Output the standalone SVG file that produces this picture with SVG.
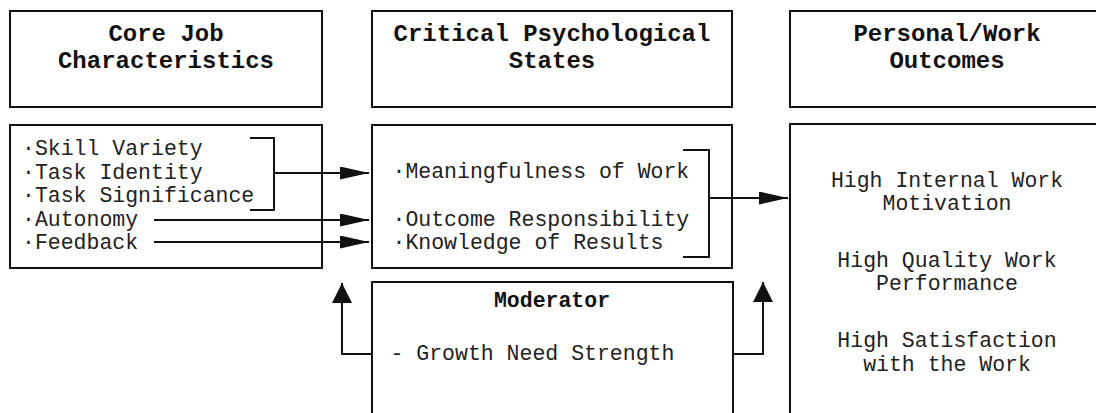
<svg xmlns="http://www.w3.org/2000/svg" width="1096" height="413" viewBox="0 0 1096 413">
  <style>
    .box { fill: #ffffff; stroke: #111111; stroke-width: 2; }
    .title { font-family: "Liberation Mono", "Courier New", monospace; font-weight: bold; font-size: 24px; fill: #111111; text-anchor: middle; }
    .body { font-family: "Liberation Mono", "Courier New", monospace; font-size: 21.5px; fill: #222222; }
    .mid { text-anchor: middle; }
    .wire { fill: none; stroke: #111111; stroke-width: 2; }
  </style>
  <defs>
    <marker id="head" markerUnits="userSpaceOnUse" markerWidth="29" markerHeight="14" refX="29" refY="6.5" orient="auto">
      <path d="M0,0 L29,6.5 L0,13 Z" fill="#111111"/>
    </marker>
    <marker id="headUp" markerUnits="userSpaceOnUse" markerWidth="20" markerHeight="20" refX="20" refY="10" orient="auto">
      <path d="M0,0 L20,10 L0,20 Z" fill="#111111"/>
    </marker>
  </defs>
  <rect width="1096" height="413" fill="#ffffff"/>

  <!-- column headers -->
  <g id="hdr-core">
    <rect class="box" x="10" y="11" width="312" height="96"/>
    <text class="title" x="166" y="41">Core Job</text>
    <text class="title" x="166" y="68">Characteristics</text>
  </g>
  <g id="hdr-states">
    <rect class="box" x="372" y="11" width="360" height="96"/>
    <text class="title" x="552" y="41">Critical Psychological</text>
    <text class="title" x="552" y="68">States</text>
  </g>
  <g id="hdr-outcomes">
    <rect class="box" x="790" y="11" width="316" height="96"/>
    <text class="title" x="947" y="41">Personal/Work</text>
    <text class="title" x="947" y="68">Outcomes</text>
  </g>

  <!-- content boxes -->
  <g id="core-list">
    <rect class="box" x="10" y="125" width="312" height="143"/>
    <text class="body" x="22" y="155">·Skill Variety</text>
    <text class="body" x="22" y="178.5">·Task Identity</text>
    <text class="body" x="22" y="202">·Task Significance</text>
    <text class="body" x="22" y="225.5">·Autonomy</text>
    <text class="body" x="22" y="249">·Feedback</text>
  </g>
  <g id="states-list">
    <rect class="box" x="372" y="125" width="360" height="143"/>
    <text class="body" x="392.5" y="178">·Meaningfulness of Work</text>
    <text class="body" x="392.5" y="226">·Outcome Responsibility</text>
    <text class="body" x="392.5" y="248.5">·Knowledge of Results</text>
  </g>
  <g id="outcomes-list">
    <rect class="box" x="790" y="124" width="316" height="300"/>
    <text class="body mid" x="947" y="187">High Internal Work</text>
    <text class="body mid" x="947" y="210">Motivation</text>
    <text class="body mid" x="947" y="267">High Quality Work</text>
    <text class="body mid" x="947" y="290">Performance</text>
    <text class="body mid" x="947" y="347">High Satisfaction</text>
    <text class="body mid" x="947" y="371">with the Work</text>
  </g>
  <g id="moderator">
    <rect class="box" x="372" y="282" width="361" height="200"/>
    <text class="title" x="552" y="307" style="font-size:21.5px">Moderator</text>
    <text class="body" x="390.5" y="360">- Growth Need Strength</text>
  </g>

  <!-- connectors -->
  <g id="connectors">
    <path class="wire" d="M250,138 H274 V210 H250"/>
    <path class="wire" d="M274,173 H369" marker-end="url(#head)"/>
    <path class="wire" d="M154,220 H369" marker-end="url(#head)"/>
    <path class="wire" d="M154,242 H369" marker-end="url(#head)"/>
    <path class="wire" d="M683,150 H709 V257 H683"/>
    <path class="wire" d="M709,198 H788" marker-end="url(#head)"/>
    <path class="wire" d="M372,354 H342 V283" marker-end="url(#headUp)"/>
    <path class="wire" d="M733,354 H763 V282" marker-end="url(#headUp)"/>
  </g>
</svg>
